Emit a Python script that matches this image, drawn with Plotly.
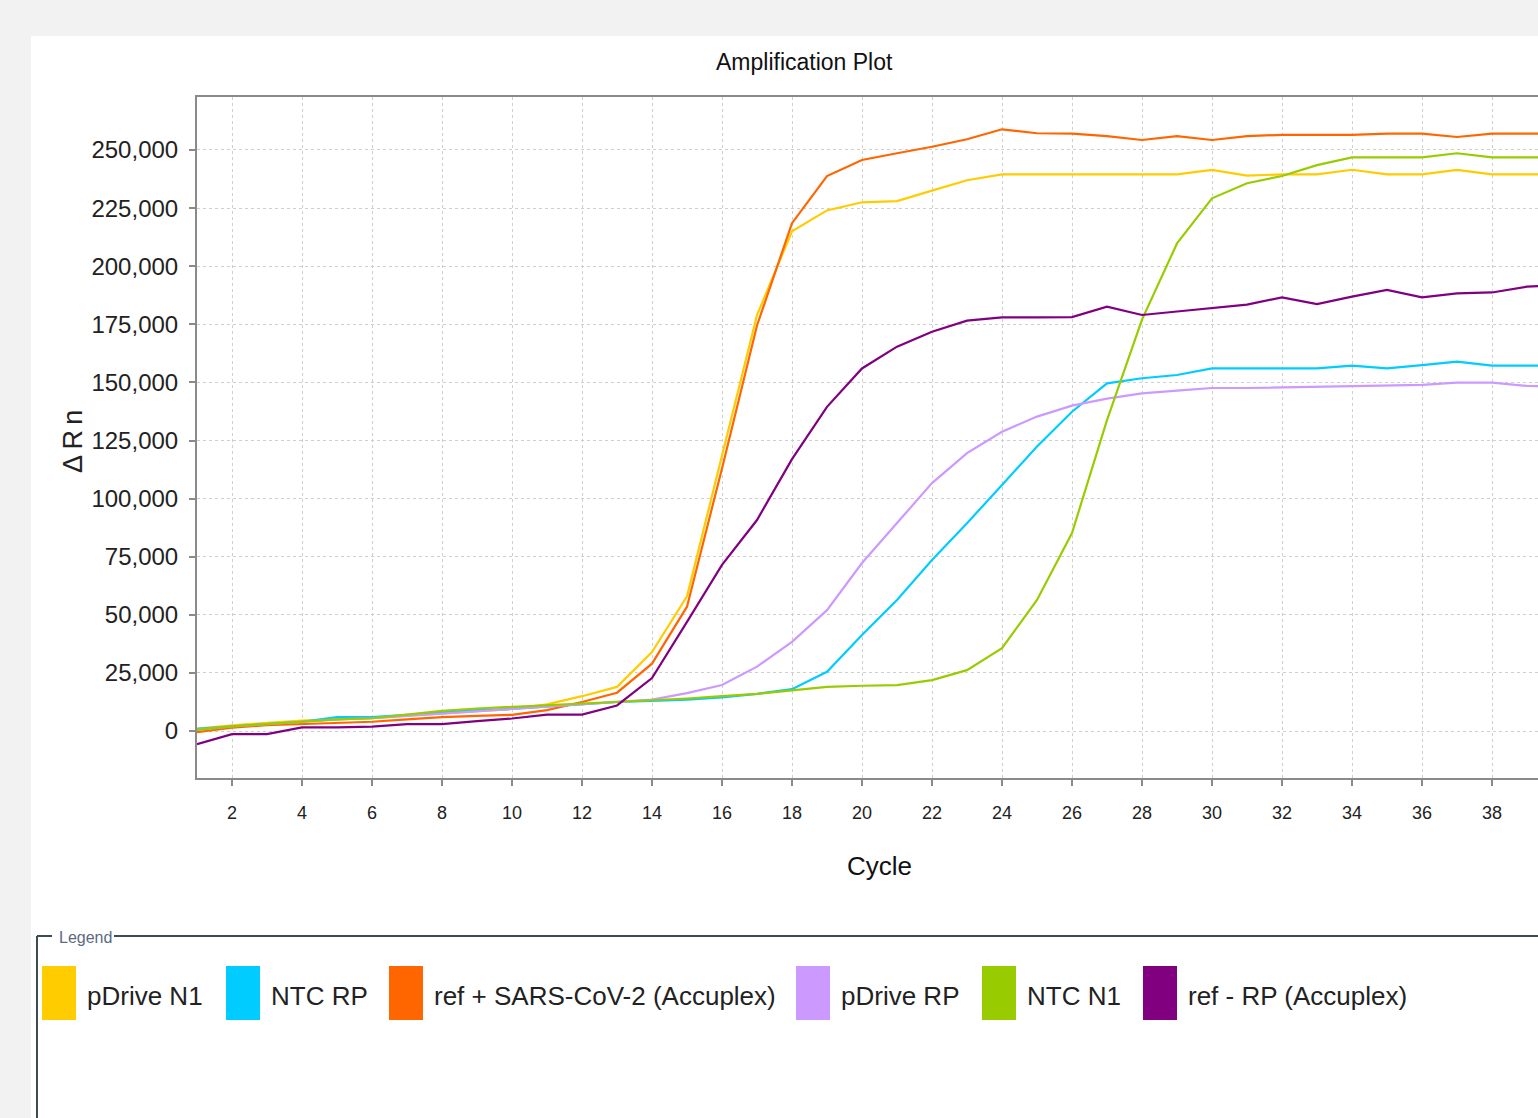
import plotly.graph_objects as go

# ---------------- data ----------------
cycles = list(range(1, 41))

pdrive_n1 = [1000, 2500, 3500, 4500, 5000, 5500, 6500, 7500, 8500, 9500,
             11500, 15000, 19000, 34000, 58000, 118000, 179000, 215000, 224000, 227500,
             228000, 232500, 237000, 239500, 239500, 239500, 239500, 239500, 239500, 241400,
             239000, 239500, 239500, 241500, 239500, 239500, 241400, 239500, 239500, 239500]

ntc_rp = [1000, 2000, 3000, 4000, 6000, 6000, 7000, 8000, 9000, 9500,
          10500, 11500, 12500, 13000, 13500, 14500, 16000, 18000, 25500, 41300,
          56400, 73600, 89400, 105900, 122400, 137400, 149600, 151800, 153200, 156000,
          156000, 156000, 156000, 157200, 156000, 157400, 158900, 157200, 157200, 157200]

ref_sars = [-500, 1500, 2500, 3000, 3500, 4000, 5000, 6000, 6500, 7000,
            9000, 12500, 16500, 29000, 53500, 113000, 174500, 218500, 238800, 245700,
            248600, 251400, 254600, 258900, 257200, 257000, 256000, 254300, 256000, 254300,
            256000, 256500, 256500, 256500, 257000, 257000, 255600, 257000, 257000, 257000]

pdrive_rp = [500, 2000, 3000, 4000, 5000, 5500, 6500, 7500, 8500, 9500,
             10500, 11500, 12500, 13500, 16300, 19800, 27700, 38400, 52000, 72300,
             89500, 106700, 119600, 128800, 135300, 140000, 143000, 145300, 146500, 147600,
             147600, 147800, 148000, 148300, 148500, 148900, 149900, 149900, 148500, 148200]

ntc_n1 = [500, 2000, 3000, 4000, 5000, 5500, 7000, 8700, 9700, 10400,
          11000, 11900, 12500, 13300, 14000, 15000, 16000, 17500, 19000, 19500,
          19800, 21900, 26200, 35700, 56400, 85200, 133800, 177000, 209800, 229200,
          235700, 238800, 243500, 246800, 246800, 246800, 248600, 246800, 246800, 246800]

ref_rp = [-5600, -1300, -1300, 1600, 1600, 1900, 3000, 3000, 4300, 5400,
          7100, 7100, 11000, 22800, 47000, 71500, 90800, 117000, 139500, 156000,
          165400, 171800, 176600, 178000, 178000, 178100, 182600, 179000, 180500, 182000,
          183500, 186600, 183700, 186900, 189800, 186600, 188300, 188700, 191200, 192000]

series_names = ["pDrive N1", "NTC RP", "ref + SARS-CoV-2 (Accuplex)",
                "pDrive RP", "NTC N1", "ref - RP (Accuplex)"]
series_values = [pdrive_n1, ntc_rp, ref_sars, pdrive_rp, ntc_n1, ref_rp]
series_colors = ["#FFCC00", "#00CCFF", "#FF6600", "#CC99FF", "#99CC00", "#800080"]

y_ticks = list(range(0, 250001, 25000))
x_ticks = list(range(2, 39, 2))

# ---------------- layout geometry ----------------
W, H = 1538, 1118
L, R, T, B = 197, 0, 97, 340
PW, PH = W - L - R, H - T - B

def px(x):
    return (x - L) / PW

def py(y):
    return (H - B - y) / PH

FONT = "Liberation Sans Narrow, Arial Narrow, Liberation Sans, Arial, sans-serif"

fig = go.Figure()
for name, vals, col in zip(series_names, series_values, series_colors):
    fig.add_trace(go.Scatter(x=cycles, y=vals, mode="lines", name=name,
                             line=dict(color=col, width=2.2), showlegend=False))

shapes = []
annotations = []

# white panel
shapes.append(dict(type="rect", xref="paper", yref="paper", layer="below",
                   x0=px(31), x1=px(1545), y0=py(36), y1=py(1125),
                   fillcolor="white", line=dict(width=0)))

# legend frame
frame_col = "#3c4c50"
shapes.append(dict(type="line", xref="paper", yref="paper", x0=px(37), x1=px(52),
                   y0=py(936), y1=py(936), line=dict(color=frame_col, width=2)))
shapes.append(dict(type="line", xref="paper", yref="paper", x0=px(114), x1=px(1545),
                   y0=py(936), y1=py(936), line=dict(color=frame_col, width=2)))
shapes.append(dict(type="line", xref="paper", yref="paper", x0=px(37), x1=px(37),
                   y0=py(936), y1=py(1125), line=dict(color=frame_col, width=2)))
annotations.append(dict(text="Legend", xref="paper", yref="paper", x=px(57), y=py(937),
                        xanchor="left", yanchor="middle", showarrow=False,
                        font=dict(family=FONT, size=16, color="#5a6a80")))

# legend items
swatch_x = [42, 226, 389, 796, 982, 1143]
for sx, name, col in zip(swatch_x, series_names, series_colors):
    shapes.append(dict(type="rect", xref="paper", yref="paper",
                       x0=px(sx), x1=px(sx + 34), y0=py(1020), y1=py(966),
                       fillcolor=col, line=dict(width=0)))
    annotations.append(dict(text=name, xref="paper", yref="paper", x=px(sx + 43), y=py(996),
                            xanchor="left", yanchor="middle", showarrow=False,
                            font=dict(family=FONT, size=26, color="#222222")))

# titles
annotations.append(dict(text="Amplification Plot", xref="paper", yref="paper",
                        x=px(804), y=py(62), xanchor="center", yanchor="middle",
                        showarrow=False, font=dict(family=FONT, size=23, color="#111111")))
annotations.append(dict(text="Cycle", xref="paper", yref="paper",
                        x=px(880), y=py(866), xanchor="center", yanchor="middle",
                        showarrow=False, font=dict(family=FONT, size=26, color="#111111")))
annotations.append(dict(text="Δ\u2009R\u2009n", xref="paper", yref="paper",
                        x=px(73), y=py(442), xanchor="center", yanchor="middle",
                        textangle=-90, showarrow=False,
                        font=dict(family=FONT, size=27, color="#222222")))

axis_col = "#8a8a8a"
fig.update_layout(
    width=W, height=H, autosize=False,
    margin=dict(l=L, r=R, t=T, b=B, pad=0),
    paper_bgcolor="#f2f2f2", plot_bgcolor="white",
    showlegend=False,
    shapes=shapes, annotations=annotations,
    xaxis=dict(range=[1, 1 + PW / 35.0], tickvals=x_ticks,
               ticktext=[str(v) for v in x_ticks],
               showgrid=True, gridcolor="#cfcfcf", griddash="dot", gridwidth=1,
               showline=True, linecolor=axis_col, linewidth=2, mirror=True,
               ticks="outside", ticklen=6, tickcolor=axis_col, tickwidth=2,
               ticklabelstandoff=11, zeroline=False,
               tickfont=dict(family=FONT, size=18, color="#222222")),
    yaxis=dict(range=[-20200, 272800], tickvals=y_ticks,
               ticktext=[f"{v:,}" for v in y_ticks],
               showgrid=True, gridcolor="#cfcfcf", griddash="dot", gridwidth=1,
               showline=True, linecolor=axis_col, linewidth=2, mirror=False,
               ticks="outside", ticklen=6, tickcolor=axis_col, tickwidth=2,
               ticklabelstandoff=6, zeroline=False,
               tickfont=dict(family=FONT, size=24, color="#222222")),
)

fig.write_html("out.html")
